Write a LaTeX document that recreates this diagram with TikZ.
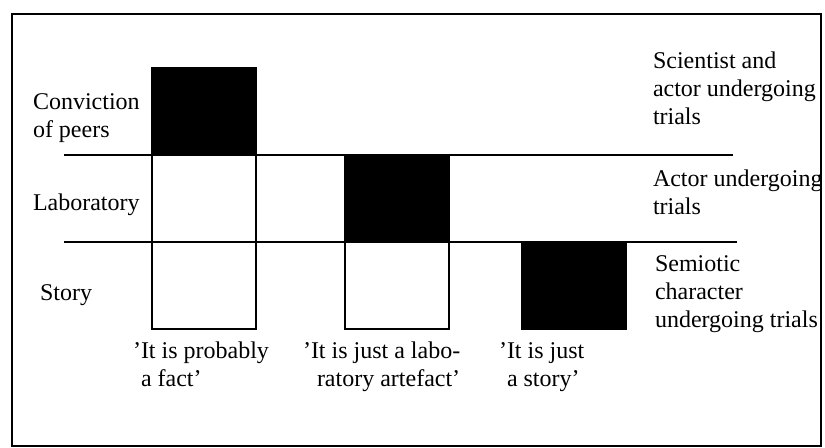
\documentclass[tikz,border=0pt]{standalone}
\usepackage{fontspec}
\setmainfont{Liberation Serif}
\begin{document}
\begin{tikzpicture}[x=0.5pt,y=-0.5pt,
  cell/.style={draw=black, line width=0.8pt, inner sep=0pt, outer sep=0pt,
    anchor=north west, minimum width=52pt, minimum height=43.5pt},
  dark/.style={cell, fill=black},
  txt/.style={anchor=base west, inner sep=0pt, outer sep=0pt, align=left,
    font=\fontsize{12pt}{14pt}\selectfont},
  rule/.style={line width=0.8pt}]
\useasboundingbox (0,0) rectangle (825,447);
\draw[line width=0.6pt] (12,14) rectangle (821,446);

% level dividers
\coordinate (l1a) at (64,155);  \coordinate (l1b) at (733,155);
\coordinate (l2a) at (64,242);  \coordinate (l2b) at (737,242);

% column 1: conviction of peers
\node[dark] (c1a) at (152,68)  {};
\node[cell] (c1b) at (152,155) {};
\node[cell] (c1c) at (152,242) {};
% column 2: laboratory
\node[dark] (c2a) at (345,155) {};
\node[cell] (c2b) at (345,242) {};
% column 3: story
\node[dark] (c3a) at (522,242) {};

\draw[rule] (l1a) -- (l1b);
\draw[rule] (l2a) -- (l2b);

% level names (base anchor sits on the last line)
\node[txt] (conv) at (33,137) {Conviction\\of peers};
\node[txt] (lab)  at (33,210) {Laboratory};
\node[txt] (sto)  at (40,300) {Story};

% verdicts
\node[txt] (v1) at (141,386) {\llap{'}It is probably\\a fact'};
\node[txt] (v2) at (311,386) {\llap{'}It is just a labo-\\\hspace{3pt}ratory artefact'};
\node[txt] (v3) at (507,386) {\llap{'}It is just\\a story'};

% who undergoes trials
\node[txt] (r1) at (653,124) {Scientist and\\actor undergoing\\trials};
\node[txt] (r2) at (653,214) {Actor undergoing\\trials};
\node[txt] (r3) at (655,327) {Semiotic\\character\\undergoing trials};
\end{tikzpicture}
\end{document}
